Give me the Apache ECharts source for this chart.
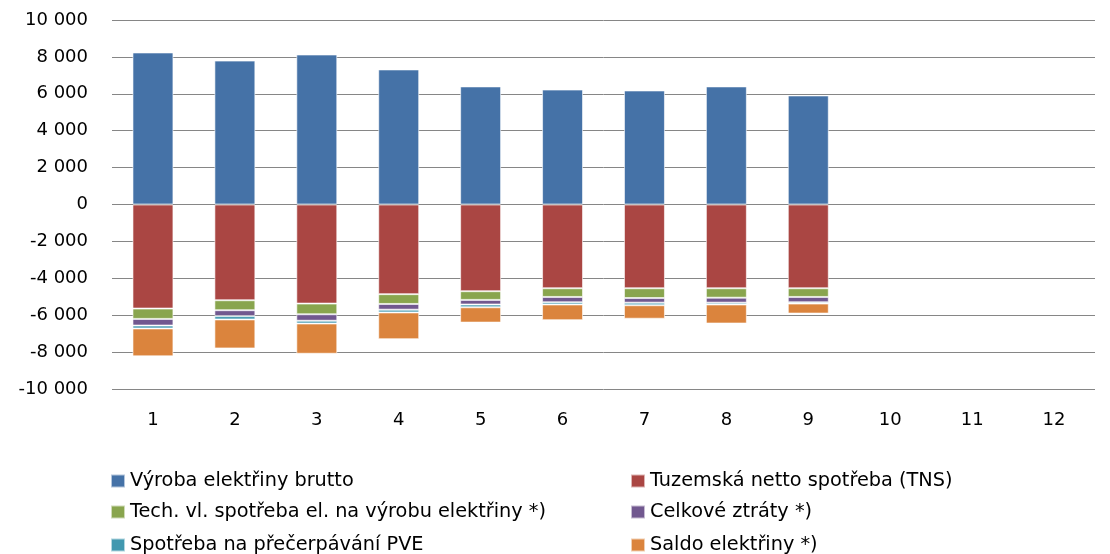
<!DOCTYPE html>
<html><head><meta charset="utf-8">
<script src="https://cdn.jsdelivr.net/npm/echarts@6/dist/echarts.min.js"></script>
<style>html,body{margin:0;padding:0;background:#fff}#c{width:1110px;height:554px}</style>
</head><body><div id="c"></div>
<script>
const categories = ['1','2','3','4','5','6','7','8','9','10','11','12'];
const vyroba  = [8240, 7800, 8130, 7320, 6400, 6230, 6180, 6400, 5910, null, null, null];
const tns     = [-5640, -5190, -5370, -4860, -4700, -4540, -4540, -4540, -4540, null, null, null];
const tech    = [-560, -540, -580, -530, -470, -470, -530, -510, -470, null, null, null];
const ztraty  = [-360, -320, -350, -310, -250, -290, -250, -270, -290, null, null, null];
const pve     = [-160, -180, -150, -150, -150, -120, -140, -100, -70, null, null, null];
const saldo   = [-1510, -1570, -1640, -1450, -830, -850, -730, -1030, -540, null, null, null];
const names = ['Výroba elektřiny brutto','Tuzemská netto spotřeba (TNS)','Tech. vl. spotřeba el. na výrobu elektřiny *)','Celkové ztráty *)','Spotřeba na přečerpávání PVE','Saldo elektřiny *)'];
const colors = ['#4572A7','#AA4643','#89A54E','#71588F','#4198AF','#DB843D'];
const data = [vyroba, tns, tech, ztraty, pve, saldo];

const chart = echarts.init(document.getElementById('c'));
const font = 'DejaVu Sans';
const legendPos = [[110,471],[630,471],[110,502],[630,502],[110,535],[630,535]];
chart.setOption({
  animation: false,
  color: colors,
  grid: {left: 112, right: 15, top: 20, bottom: 165},
  xAxis: {
    type: 'category', data: categories,
    axisLine: {show: false}, axisTick: {show: false},
    axisLabel: {color: '#000', fontFamily: font, fontSize: 18, margin: 22}
  },
  yAxis: {
    type: 'value', min: -10000, max: 10000, interval: 2000,
    axisLine: {show: false}, axisTick: {show: false},
    splitLine: {lineStyle: {color: '#868686', width: 1}},
    axisLabel: {color: '#000', fontFamily: font, fontSize: 18, margin: 24,
      formatter: v => (v < 0 ? '-' : '') + Math.abs(v).toString().replace(/\B(?=(\d{3})+(?!\d))/g, ' ')}
  },
  legend: names.map((n, i) => ({
    left: legendPos[i][0], top: legendPos[i][1], padding: 0,
    itemWidth: 14, itemHeight: 13, icon: 'rect',
    textStyle: {fontFamily: font, fontSize: 19.3, color: '#000', lineHeight: 20},
    data: [n]
  })),
  series: names.map((n, i) => ({
    name: n, type: 'bar', stack: 'a', data: data[i], barWidth: '50%',
    itemStyle: {color: colors[i], borderColor: 'rgba(255,255,255,0.6)', borderWidth: 1}
  }))
});
</script></body></html>
